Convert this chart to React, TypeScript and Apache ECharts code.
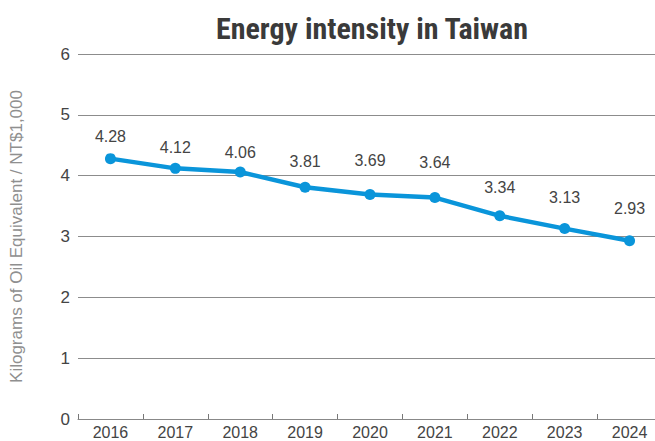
import React, { useEffect, useRef } from "react";
import * as echarts from "echarts";

const years: string[] = ["2016", "2017", "2018", "2019", "2020", "2021", "2022", "2023", "2024"];
const intensity: number[] = [4.28, 4.12, 4.06, 3.81, 3.69, 3.64, 3.34, 3.13, 2.93];
const yTicks: number[] = [0, 1, 2, 3, 4, 5, 6];

// label lift above each point (style only)
const labelRise: number[] = [22, 21, 20, 26, 34, 35, 28, 31, 32];

export default function App() {
  const ref = useRef<HTMLDivElement>(null);
  useEffect(() => {
    if (!ref.current) return;
    const chart = echarts.init(ref.current, undefined, { renderer: "svg" });
    const font = "'Liberation Sans', Arial, Helvetica, sans-serif";
    chart.setOption({
      animation: false,
      backgroundColor: "#ffffff",
      title: {
        text: "Energy intensity in Taiwan",
        left: 367,
        top: 8,
        textAlign: "center",
        textStyle: {
          fontFamily: "'Liberation Sans Narrow', 'Roboto Condensed', 'DejaVu Sans Condensed', sans-serif",
          fontWeight: "bold",
          fontSize: 30,
          color: "#3a3a3a",
        },
      },
      grid: { left: 78, right: -7, top: 54, bottom: 22, containLabel: false, outerBoundsMode: "none" },
      xAxis: {
        type: "category",
        data: years,
        boundaryGap: true,
        axisLine: { show: true, lineStyle: { color: "#888", width: 1 } },
        axisTick: { show: true, inside: true, length: 5, lineStyle: { color: "#777" } },
        axisLabel: { color: "#444", fontSize: 16, lineHeight: 15, fontFamily: font, margin: 6 },
        splitLine: { show: false },
      },
      yAxis: {
        type: "value",
        min: yTicks[0],
        max: yTicks[yTicks.length - 1],
        interval: 1,
        name: "Kilograms of Oil Equivalent / NT$1,000",
        nameLocation: "middle",
        nameGap: 53,
        nameTextStyle: { color: "#8f8f8f", fontSize: 17, fontFamily: font },
        axisLine: { show: false },
        axisTick: { show: false },
        axisLabel: { color: "#444", fontSize: 17, fontFamily: font, margin: 8 },
        splitLine: { show: true, lineStyle: { color: "#8c8c8c", width: 1 } },
      },
      series: [
        {
          type: "line",
          data: intensity.map((v, i) => ({
            value: v,
            label: { offset: [0, -labelRise[i]] },
          })),
          symbol: "circle",
          symbolSize: 11,
          lineStyle: { color: "#0a95da", width: 4.5 },
          itemStyle: { color: "#0a95da" },
          label: {
            show: true,
            position: "inside",
            color: "#444",
            fontSize: 16,
            fontFamily: font,
            formatter: (p: any) => Number(p.value).toFixed(2),
          },
        },
      ],
    });
    return () => chart.dispose();
  }, []);
  return <div ref={ref} style={{ width: 655, height: 441, position: "fixed", left: 0, top: 0 }} />;
}
